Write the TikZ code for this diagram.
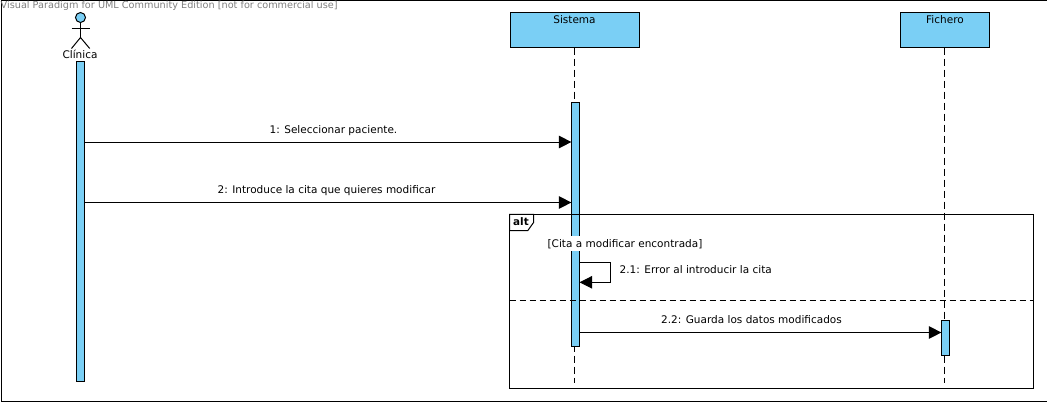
\documentclass[tikz,border=0pt]{standalone}
\usepackage{fontspec}
\setmainfont{DejaVu Sans}
\usetikzlibrary{positioning,arrows.meta}
\definecolor{barblue}{HTML}{7ACFF5}
\begin{document}
\begin{tikzpicture}[x=1pt,y=-1pt,
    font=\fontsize{10.5}{12}\selectfont,
    objnode/.style={rectangle, draw=black, fill=barblue, line width=1pt, minimum height=35pt, inner sep=0pt, outer sep=0pt},
    barnode/.style={rectangle, draw=black, fill=barblue, line width=1pt, minimum width=8.2pt, inner sep=0pt, outer sep=0pt},
    msglabel/.style={inner sep=0pt},
    lifeline/.style={line width=1pt, dash pattern=on 7pt off 4pt},
    msgline/.style={line width=1pt, -{Triangle[length=12.5pt,width=12.5pt]}},
    ]
    \useasboundingbox (0,0) rectangle (1047,402);
    %Frame
    \node[draw=black, line width=1pt, minimum width=1046pt, minimum height=401pt, inner sep=0pt, anchor=north west] (page) at (0.5,0.3) {};
    \node[text=black!50, msglabel, font=\fontsize{9.7}{11}\selectfont, anchor=west] (watermark) at (0.5,6) {Visual Paradigm for UML Community Edition [not for commercial use]};

    %Nodes
    \node[objnode, minimum width=129pt, anchor=north west] (sistema) at (510.5,12.5) {};
    \node[objnode, minimum width=89pt, anchor=north west] (fichero) at (900.5,12.5) {};
    \node[msglabel] (sistematext) at (574.5,19.5) {Sistema};
    \node[msglabel] (ficherotext) at (945,19.5) {Fichero};
    \node[circle, draw=black, fill=barblue, line width=1pt, minimum size=10pt, inner sep=0pt, outer sep=0pt] (head) at (80.5,17.5) {};
    \node[msglabel] (clinica) at (80,54) {Clínica};
    \node[barnode, minimum height=320pt, anchor=north] (clinicabar) at (80.5,61.2) {};

    \coordinate (sistematop) at (574.5,47.5);
    \coordinate (ficherotop) at (944.5,47.5);
    \coordinate[below=335pt of sistematop] (sistemaend);
    \coordinate[below=335pt of ficherotop] (ficheroend);
    \draw[lifeline] (sistematop) -- (sistemaend);
    \draw[lifeline] (ficherotop) -- (ficheroend);

    \node[barnode, minimum height=244pt, anchor=north] (sistemabar) at (575.5,102.3) {};
    \node[barnode, minimum height=35pt, anchor=north] (ficherobar) at (945.5,320.3) {};

    %Combined fragment
    \node[draw=black, line width=1pt, minimum width=524pt, minimum height=174pt, inner sep=0pt, outer sep=0pt, anchor=north west] (altframe) at (509.5,214.3) {};
    \coordinate (tabtop) at (533.7,214.3);
    \coordinate (tableft) at (509.5,230.7);
    \draw[line width=1pt, fill=white] (altframe.north west) -- (tabtop) -- ++(0,8) -- (527.7,230.7) -- (tableft) -- cycle;
    \node[font=\fontsize{10.4}{12}\selectfont\bfseries, msglabel] (alt) at (521,222) {alt};
    \draw[line width=1pt, dash pattern=on 6pt off 4pt] (altframe.west |- 0,300) -- (altframe.east |- 0,300);
    \node[fill=white, inner xsep=0pt, inner ysep=3pt] (guard) at (625,243.7) {[Cita a modificar encontrada]};

    %Invisible ends of the messages
    \coordinate (m1a) at (clinicabar.east |- 0,142);
    \coordinate (m1b) at (sistemabar.west |- 0,142);
    \coordinate (m2a) at (clinicabar.east |- 0,202.5);
    \coordinate (m2b) at (sistemabar.west |- 0,202.5);
    \coordinate (selfa) at (sistemabar.east |- 0,262.3);
    \coordinate[right=31pt of selfa] (selfb);
    \coordinate[below=20pt of selfb] (selfc);
    \coordinate[below=20pt of selfa] (selfd);
    \coordinate (m3a) at (sistemabar.east |- 0,332.5);
    \coordinate (m3b) at (ficherobar.west |- 0,332.5);

    %Actor
    \coordinate[below=15pt of head.south] (crotch);
    \draw[line width=1pt] (head.south) -- (crotch);
    \draw[line width=1pt] (71.5,28.3) -- (90,28.3);
    \draw[line width=1pt] (71.5,48.5) -- (crotch) -- (89.7,48.5);

    %Lines
    \draw[msgline] (m1a) -- (m1b);
    \draw[msgline] (m2a) -- (m2b);
    \draw[msgline] (selfa) -- (selfb) -- (selfc) -- (selfd);
    \draw[msgline] (m3a) -- (m3b);

    %Labels
    \node[msglabel] (m1text) at (333.5,130.3) {1: Seleccionar paciente.};
    \node[msglabel] (m2text) at (326.5,191) {2: Introduce la cita que quieres modificar};
    \node[msglabel, anchor=west] (selftext) at (619.5,269.8) {2.1: Error al introducir la cita};
    \node[msglabel] (m3text) at (751.5,319.8) {2.2: Guarda los datos modificados};
\end{tikzpicture}
\end{document}
